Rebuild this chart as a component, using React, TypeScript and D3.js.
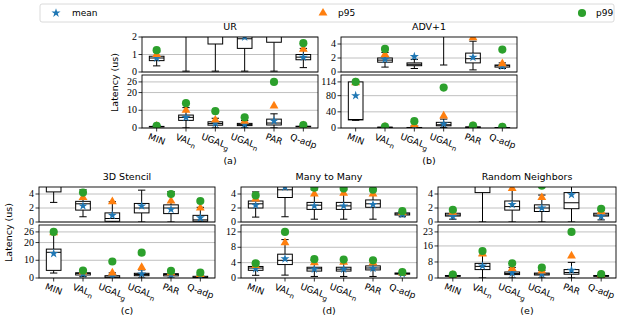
import React from "react";
import * as d3 from "d3";

// x categories ("_" marks a subscript)
const categories = ["MIN", "VAL_n", "UGAL_g", "UGAL_n", "PAR", "Q-adp"];

// box stats per category: [whisker low, q1, median, q3, whisker high]
const urBox = [
  [0.35, 0.65, 0.8, 0.9, 1.15],
  [0.05, 4.3, 6, 7.3, 11.5],
  [0.05, 1.6, 2.5, 3.5, 5.5],
  [0.05, 1.35, 1.9, 2.6, 4.2],
  [0.05, 1.7, 2.8, 5, 8],
  [0.25, 0.7, 0.85, 1.0, 1.35],
];
const urMean = [0.8, 6, 2.6, 2.0, 4, 0.85];
const urP95 = [1.0, 10, 4.5, 3.8, 12.5, 1.3];
const urP99 = [1.25, 14, 9.5, 6, 26, 1.65];

const advBox = [
  [19, 20, 21, 114, 114],
  [0.7, 1.4, 1.7, 2.0, 2.8],
  [0.5, 0.9, 1.1, 1.3, 1.8],
  [1.0, 5.5, 8, 14, 22],
  [0.3, 1.3, 1.9, 2.7, 4.4],
  [0.5, 0.7, 0.9, 1.0, 1.3],
];
const advMean = [80, 1.8, 2.2, 10, 2.1, 0.85];
const advP95 = [112, 2.5, 8, 30, 4.9, 1.2];
const advP99 = [114, 3.3, 17, 100, 6, 3.2];

const stencilBox = [
  [2.8, 4.3, 14.5, 16.3, 26],
  [0.75, 1.7, 2.6, 2.95, 4.6],
  [0, 0.1, 0.5, 1.3, 2.9],
  [0, 1.3, 2.0, 2.65, 4.55],
  [0, 1.2, 2.0, 2.45, 4.35],
  [0, 0.1, 0.3, 0.95, 2.1],
];
const stencilMean = [13.8, 2.3, 0.95, 2.3, 1.8, 0.6];
const stencilP95 = [25.5, 3.5, 2.9, 6.0, 3.0, 2.0];
const stencilP99 = [26, 4.2, 9.3, 14.3, 4.0, 3.0];

const m2mBox = [
  [0.7, 2.0, 2.6, 3.0, 4.3],
  [0.75, 3.5, 4.6, 6.2, 10],
  [0.4, 1.8, 2.4, 2.8, 4.6],
  [0.4, 1.8, 2.3, 2.8, 4.6],
  [0.4, 2.1, 2.6, 3.15, 4.8],
  [0.75, 1.0, 1.15, 1.3, 1.5],
];
const m2mMean = [2.4, 5.0, 2.3, 2.3, 2.5, 1.1];
const m2mP95 = [3.3, 9.2, 4.0, 4.1, 4.0, 1.35];
const m2mP99 = [3.8, 12, 4.9, 4.8, 4.6, 1.55];

const randBox = [
  [0.4, 0.85, 1.0, 1.25, 1.6],
  [0, 4.2, 5.8, 7.3, 11.3],
  [0, 1.7, 2.2, 3.0, 5.3],
  [0, 1.5, 2.0, 2.45, 3.85],
  [0, 1.9, 2.75, 4.2, 7.8],
  [0.3, 0.85, 1.0, 1.25, 1.7],
];
const randMean = [0.8, 6.0, 2.5, 2.0, 3.9, 0.8];
const randP95 = [1.4, 12, 4.8, 3.5, 11, 1.5];
const randP99 = [1.75, 13.5, 7.3, 5.2, 23, 1.9];

// y ticks
const urUpperTicks = [0, 1, 2];
const urLowerTicks = [0, 10, 20, 26];
const advLowerTicks = [0, 40, 80, 114];
const stencilLowerTicks = [0, 10, 20, 26];
const m2mLowerTicks = [0, 4, 8, 12];
const randLowerTicks = [0, 8, 16, 23];
const upperTicks = [0, 2, 4];

const BLUE = "#1f77b4";
const ORANGE = "#ff7f0e";
const GREEN = "#2ca02c";
const SANS = "DejaVu Sans, sans-serif";
const SERIF = "Liberation Serif, serif";

const star = d3.symbol().type(d3.symbolStar).size(26)();
const tri = d3.symbol().type(d3.symbolTriangle).size(34)();
const dot = d3.symbol().type(d3.symbolCircle).size(52)();

function Label({ text }: { text: string }) {
  const [base, sub] = text.split("_");
  return (
    <>
      {base}
      {sub && (
        <tspan dy={2.5} fontSize={7}>
          {sub}
        </tspan>
      )}
    </>
  );
}

function Axes(props: any) {
  const { id, x0, w, top, h, max, ticks, box, mean, p95, p99, showX } = props;
  const xs = d3.scaleBand().domain(categories).range([x0, x0 + w]);
  const y = d3.scaleLinear().domain([0, max]).range([top + h, top]);
  const bw = xs.bandwidth() * 0.5;
  const cx = (i: number) => (xs(categories[i]) as number) + xs.bandwidth() / 2;
  return (
    <g>
      <clipPath id={id}>
        <rect x={x0} y={top} width={w} height={h} />
      </clipPath>
      {ticks.map((t: number) => (
        <g key={t}>
          <line x1={x0} x2={x0 + w} y1={y(t)} y2={y(t)} stroke="#b0b0b0" strokeWidth={0.8} />
          <line x1={x0 - 3.5} x2={x0} y1={y(t)} y2={y(t)} stroke="#000" strokeWidth={0.8} />
          <text x={x0 - 5} y={y(t)} dy="0.32em" textAnchor="end" fontFamily={SERIF} fontSize={10}>
            {t}
          </text>
        </g>
      ))}
      <g clipPath={`url(#${id})`}>
        {box.map((b: number[], i: number) => {
          const c = cx(i);
          return (
            <g key={i} stroke="#000" strokeWidth={1} fill="none">
              <line x1={c} x2={c} y1={y(b[0])} y2={y(b[1])} />
              <line x1={c} x2={c} y1={y(b[3])} y2={y(b[4])} />
              <line x1={c - bw / 4} x2={c + bw / 4} y1={y(b[0])} y2={y(b[0])} />
              <line x1={c - bw / 4} x2={c + bw / 4} y1={y(b[4])} y2={y(b[4])} />
              <rect x={c - bw / 2} y={y(b[3])} width={bw} height={y(b[1]) - y(b[3])} fill="#fff" />
              <line x1={c - bw / 2} x2={c + bw / 2} y1={y(b[2])} y2={y(b[2])} />
            </g>
          );
        })}
        {mean.map((v: number, i: number) => (
          <path key={"m" + i} d={star as string} transform={`translate(${cx(i)},${y(v)})`} fill={BLUE} />
        ))}
        {p95.map((v: number, i: number) => (
          <path key={"a" + i} d={tri as string} transform={`translate(${cx(i)},${y(v)})`} fill={ORANGE} />
        ))}
        {p99.map((v: number, i: number) => (
          <path key={"c" + i} d={dot as string} transform={`translate(${cx(i)},${y(v)})`} fill={GREEN} />
        ))}
      </g>
      <rect x={x0} y={top} width={w} height={h} fill="none" stroke="#000" strokeWidth={0.9} />
      {showX &&
        categories.map((c, i) => {
          const len = c.replace("_", "").length * 6;
          const ang = (20 * Math.PI) / 180;
          const dy = (len * Math.sin(ang) + 9 * Math.cos(ang)) / 2 + 4;
          return (
            <g key={c}>
              <line x1={cx(i)} x2={cx(i)} y1={top + h} y2={top + h + 3.5} stroke="#000" strokeWidth={0.8} />
              <g transform={`translate(${cx(i)},${top + h + dy}) rotate(20)`}>
                <text textAnchor="middle" dy="0.32em" fontFamily={SANS} fontSize={9}>
                  <Label text={c} />
                </text>
              </g>
            </g>
          );
        })}
    </g>
  );
}

function Panel(props: any) {
  const { id, x0, w, top, title, caption, upMax, upTicks, lowTicks, box, mean, p95, p99, yLabelX } = props;
  const upH = 35;
  const lowTop = top + 38;
  const lowH = 53;
  const lowMax = lowTicks[lowTicks.length - 1] * 1.15;
  return (
    <g>
      <text x={x0 + w / 2} y={top - 7} textAnchor="middle" fontFamily={SANS} fontSize={9.5}>
        {title}
      </text>
      <Axes id={id + "u"} x0={x0} w={w} top={top} h={upH} max={upMax} ticks={upTicks}
        box={box} mean={mean} p95={p95} p99={p99} showX={false} />
      <Axes id={id + "l"} x0={x0} w={w} top={lowTop} h={lowH} max={lowMax} ticks={lowTicks}
        box={box} mean={mean} p95={p95} p99={p99} showX={true} />
      <text x={x0 + w / 2} y={lowTop + lowH + 33} dy="0.35em" textAnchor="middle" fontFamily={SANS} fontSize={9.5}>
        {caption}
      </text>
      {yLabelX !== undefined && (
        <text transform={`translate(${yLabelX},${(top + lowTop + lowH) / 2}) rotate(-90)`}
          textAnchor="middle" dy="0.35em" fontFamily={SANS} fontSize={9.5}>
          Latency (us)
        </text>
      )}
    </g>
  );
}

export default function App() {
  return (
    <svg width={631} height={315} style={{ position: "absolute", left: 0, top: 0, background: "#fff" }}>
      <rect width={631} height={315} fill="#fff" />
      <g>
        <rect x={40} y={4} width={574} height={18} rx={2} fill="#fff" stroke="#d0d0d0" strokeWidth={0.8} />
        <path d={star as string} transform="translate(56,13)" fill={BLUE} />
        <text x={72} y={13} dy="0.35em" fontFamily={SANS} fontSize={9}>mean</text>
        <path d={tri as string} transform="translate(323,13)" fill={ORANGE} />
        <text x={338} y={13} dy="0.35em" fontFamily={SANS} fontSize={9}>p95</text>
        <path d={dot as string} transform="translate(582,13)" fill={GREEN} />
        <text x={596} y={13} dy="0.35em" fontFamily={SANS} fontSize={9}>p99</text>
      </g>
      <Panel id="a" x0={142} w={176} top={37} title="UR" caption="(a)" upMax={2} upTicks={urUpperTicks}
        lowTicks={urLowerTicks} box={urBox} mean={urMean} p95={urP95} p99={urP99} yLabelX={115} />
      <Panel id="b" x0={341} w={176} top={37} title="ADV+1" caption="(b)" upMax={5} upTicks={upperTicks}
        lowTicks={advLowerTicks} box={advBox} mean={advMean} p95={advP95} p99={advP99} />
      <Panel id="c" x0={39} w={176} top={187} title="3D Stencil" caption="(c)" upMax={5} upTicks={upperTicks}
        lowTicks={stencilLowerTicks} box={stencilBox} mean={stencilMean} p95={stencilP95} p99={stencilP99} yLabelX={9} />
      <Panel id="d" x0={241} w={176} top={187} title="Many to Many" caption="(d)" upMax={5} upTicks={upperTicks}
        lowTicks={m2mLowerTicks} box={m2mBox} mean={m2mMean} p95={m2mP95} p99={m2mP99} />
      <Panel id="e" x0={438} w={178} top={187} title="Random Neighbors" caption="(e)" upMax={5} upTicks={upperTicks}
        lowTicks={randLowerTicks} box={randBox} mean={randMean} p95={randP95} p99={randP99} />
    </svg>
  );
}
